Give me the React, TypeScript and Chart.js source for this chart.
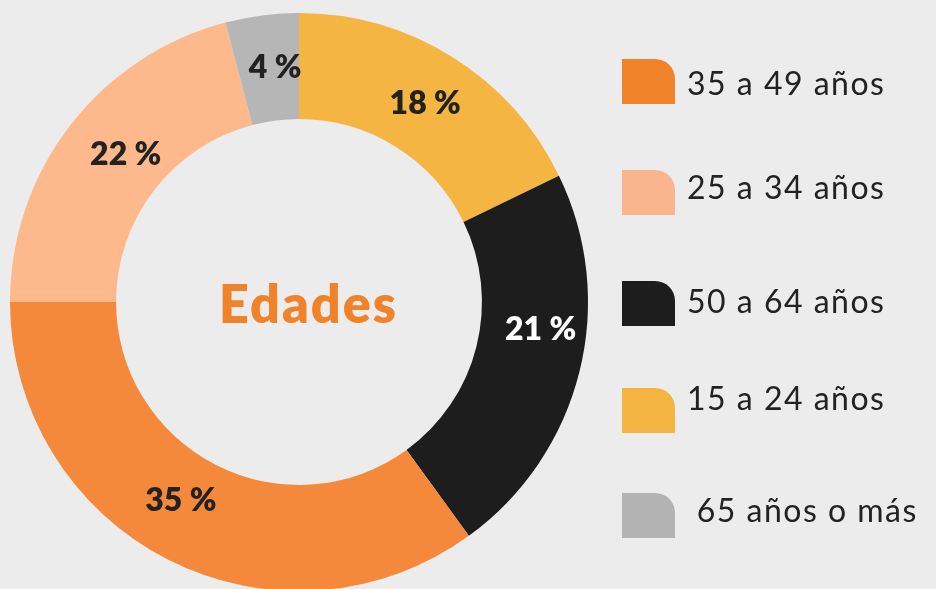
import { useEffect, useRef } from "react";
import { Chart, registerables } from "chart.js";

Chart.register(...registerables);

// Data in drawing order (clockwise from 12 o'clock)
const categories = ["15 a 24 años", "50 a 64 años", "35 a 49 años", "25 a 34 años", " 65 años o más"];
const values = [17.8, 22.2, 35, 20.9, 4.1];
const valueLabels = ["18 %", "21 %", "35 %", "22 %", "4 %"];
const sliceColors = ["#F4B542", "#1D1D1D", "#F5893B", "#FDB98B", "#B6B6B6"];
const legendColors = ["#F4B441", "#1D1D1D", "#F0822A", "#F9B68E", "#B3B3B3"];
const legendOrder = [2, 3, 1, 0, 4];
const centerTitle = "Edades";

// Layout tweaks (styling only)
const labelAngleShift = [0.3, -7.9, 3.9, 2.9, 1.6];
const labelRadiusShift = [0, 7, -6, -8, 1];
const legendBoxTops = [59, 170, 281, 388, 493];
const legendBaselines = [95, 199, 313, 410, 522];

const W = 936;
const H = 589;

const sliceLabelsPlugin = {
  id: "sliceLabels",
  afterDatasetsDraw(chart: any) {
    const ctx = chart.ctx;
    const meta = chart.getDatasetMeta(0);
    const size = 32;
    meta.data.forEach((arc: any, i: number) => {
      const p = arc.getProps(["x", "y", "startAngle", "endAngle", "innerRadius", "outerRadius"], true);
      const mid = (p.startAngle + p.endAngle) / 2 + (labelAngleShift[i] * Math.PI) / 180;
      const r = (p.innerRadius + p.outerRadius) / 2 + labelRadiusShift[i];
      const x = p.x + Math.cos(mid) * r;
      const y = p.y + Math.sin(mid) * r;
      ctx.save();
      ctx.font = `800 ${size}px Lato`;
      ctx.fillStyle = i === 1 ? "#FFFFFF" : "#222222";
      ctx.textAlign = "center";
      ctx.textBaseline = "alphabetic";
      ctx.fillText(valueLabels[i], x, y + 0.36 * size);
      ctx.restore();
    });
  },
  afterDraw(chart: any) {
    const ctx = chart.ctx;
    const arc = chart.getDatasetMeta(0).data[0];
    if (!arc) return;
    const p = arc.getProps(["x", "y"], true);
    ctx.save();
    // centre title
    ctx.font = "800 52px Lato";
    (ctx as any).letterSpacing = "2px";
    ctx.fillStyle = "#F0822A";
    ctx.textAlign = "center";
    ctx.textBaseline = "alphabetic";
    ctx.fillText(centerTitle, p.x + 9.5, p.y + 21);

    // legend
    (ctx as any).letterSpacing = "1.5px";
    legendOrder.forEach((idx, row) => {
      ctx.fillStyle = legendColors[idx];
      ctx.beginPath();
      (ctx as any).roundRect(622, legendBoxTops[row], 53, 45, [0, 20, 0, 0]);
      ctx.fill();
      ctx.font = "400 32px Lato";
      ctx.fillStyle = "#222222";
      ctx.textAlign = "left";
      ctx.fillText(categories[idx], 687, legendBaselines[row]);
    });
    ctx.restore();
  },
};

export default function App() {
  const ref = useRef<HTMLCanvasElement | null>(null);
  useEffect(() => {
    if (!ref.current) return;
    const chart = new Chart(ref.current, {
      type: "doughnut",
      data: {
        labels: categories,
        datasets: [
          {
            data: values,
            backgroundColor: sliceColors,
            borderWidth: 0,
          },
        ],
      },
      options: {
        responsive: false,
        animation: false,
        cutout: "63.3%",
        layout: { padding: { left: 10, top: 13, right: 348, bottom: 0 } },
        plugins: {
          legend: { display: false },
          tooltip: { enabled: false },
        },
      },
      plugins: [sliceLabelsPlugin],
    });
    return () => chart.destroy();
  }, []);

  return (
    <div
      style={{
        position: "absolute",
        left: 0,
        top: 0,
        width: W,
        height: H,
        overflow: "hidden",
        background: "#ECECEC",
      }}
    >
      <canvas ref={ref} width={W} height={591} style={{ width: W, height: 591, display: "block" }} />
    </div>
  );
}
